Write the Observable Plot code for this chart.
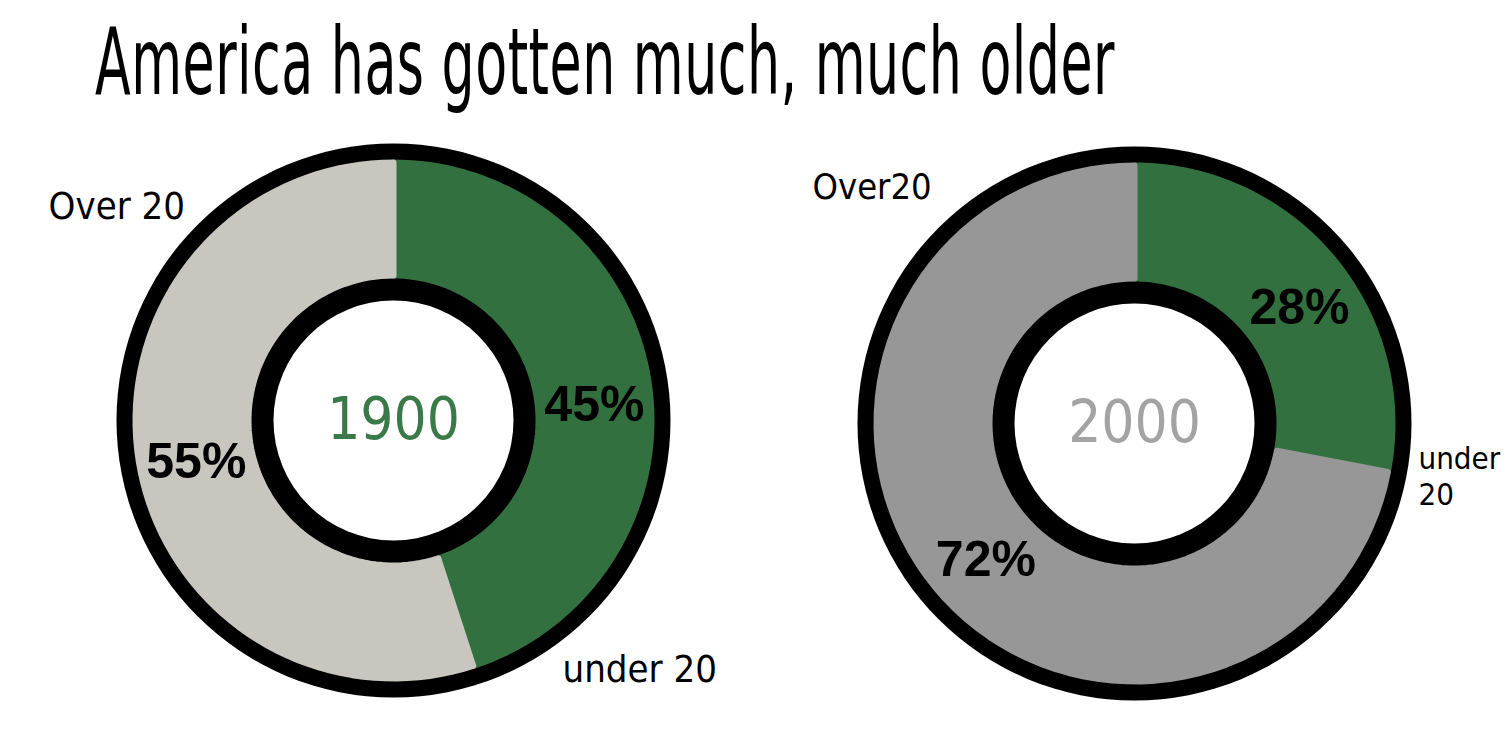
<!DOCTYPE html>
<html>
<head>
<meta charset="utf-8">
<script src="https://cdn.jsdelivr.net/npm/d3@7"></script>
<script src="https://cdn.jsdelivr.net/npm/@observablehq/plot@0.6"></script>
<style>
  html, body { margin: 0; padding: 0; background: #fff; overflow: hidden; }
  #title {
    height: 130px; box-sizing: border-box; position: relative;
  }
  #title span {
    position: absolute; left: 95px; top: 14px;
    display: inline-block; transform: scale(1, 1.6); transform-origin: 0 0;
    font-family: "DejaVu Sans Condensed", "Liberation Sans Narrow", sans-serif;
    font-size: 58px; line-height: 60px; color: #000; white-space: nowrap; letter-spacing: 0.5px;
  }
  #chart svg { display: block; }
</style>
</head>
<body>
<div id="title"><span>America has gotten much, much older</span></div>
<div id="chart"></div>
<script>
// ---- data ----
const years = ["1900", "2000"];
const groups = ["under 20", "Over 20"];
const under20 = [45, 28];
const over20 = [55, 72];
const groupLabels = [["Over 20", "under 20"], ["Over20", "under\n20"]];

// ---- styles / layout ----
const W = 1512, H = 600;
const centers = [[393, 290], [1134, 293]];
const rOuterBlack = 277, rSliceOuter = 258, rSliceInner = 145, rWhite = 120;
const sliceColors = { "under 20": "#32703f", "Over 20": ["#c8c6bf", "#979797"] };
const yearColors = ["#3a7a48", "#a3a3a3"];
// offsets of the group labels from each donut centre, and their sizes
const labelOffsets = [[[-345, -215], [169, 248]], [[-322, -238], [284, 52]]];
const labelSizes = [[38, 38], [36, 31]];

// build slice polygons from the data
const slices = [];
years.forEach((year, i) => {
  const vals = [under20[i], over20[i]];
  const total = d3.sum(vals);
  let start = 0;
  vals.forEach((v, j) => {
    const a0 = start / total * 2 * Math.PI;
    const a1 = (start + v) / total * 2 * Math.PI;
    start += v;
    const [cx, cy] = centers[i];
    const n = 80;
    const pts = [];
    for (let k = 0; k <= n; k++) {
      const a = a0 + (a1 - a0) * k / n;
      pts.push({x: cx + rSliceOuter * Math.sin(a), y: cy - rSliceOuter * Math.cos(a)});
    }
    for (let k = n; k >= 0; k--) {
      const a = a0 + (a1 - a0) * k / n;
      pts.push({x: cx + rSliceInner * Math.sin(a), y: cy - rSliceInner * Math.cos(a)});
    }
    const color = j === 0 ? sliceColors["under 20"] : sliceColors["Over 20"][i];
    const mid = (a0 + a1) / 2 + (j === 0 ? 0.08 : -0.05), rm = (rSliceOuter + rSliceInner) / 2;
    slices.push({year, group: groups[j], value: v, pts, color,
      lx: cx + rm * Math.sin(mid), ly: cy - rm * Math.cos(mid)});
  });
});

const centerData = years.map((year, i) => ({year, x: centers[i][0], y: centers[i][1], color: yearColors[i]}));
const groupLabelData = [];
years.forEach((year, i) => {
  groupLabels[i].forEach((lab, j) => {
    groupLabelData.push({text: lab, size: labelSizes[i][j],
      x: centers[i][0] + labelOffsets[i][j][0], y: centers[i][1] + labelOffsets[i][j][1]});
  });
});

const marks = [
  Plot.dot(centerData, {x: "x", y: "y", r: rOuterBlack, fill: "#000", stroke: null}),
  ...slices.map(s => Plot.line(s.pts, {x: "x", y: "y", curve: "linear-closed", fill: s.color, stroke: s.color, strokeWidth: 6, strokeLinejoin: "round"})),
  Plot.dot(centerData, {x: "x", y: "y", r: rWhite, fill: "#fff", stroke: null}),
  Plot.text(centerData, {x: "x", y: "y", text: "year", fill: "color", fontSize: 58, fontFamily: "DejaVu Sans Condensed, sans-serif"}),
  Plot.text(slices, {x: "lx", y: "ly", text: d => d.value + "%", fill: "#000", fontSize: 50, fontWeight: "bold", fontFamily: "Liberation Sans, sans-serif"}),
  ...groupLabelData.map(d => Plot.text([d], {x: "x", y: "y", text: "text", fill: "#000", fontSize: d.size, textAnchor: "start", lineHeight: 1.15, fontFamily: "DejaVu Sans Condensed, sans-serif"}))
];

const chart = Plot.plot({
  width: W, height: H,
  margin: 0,
  x: {domain: [0, W], range: [0, W], axis: null},
  y: {domain: [0, H], range: [0, H], axis: null},
  marks
});
document.getElementById("chart").appendChild(chart);
</script>
</body>
</html>
